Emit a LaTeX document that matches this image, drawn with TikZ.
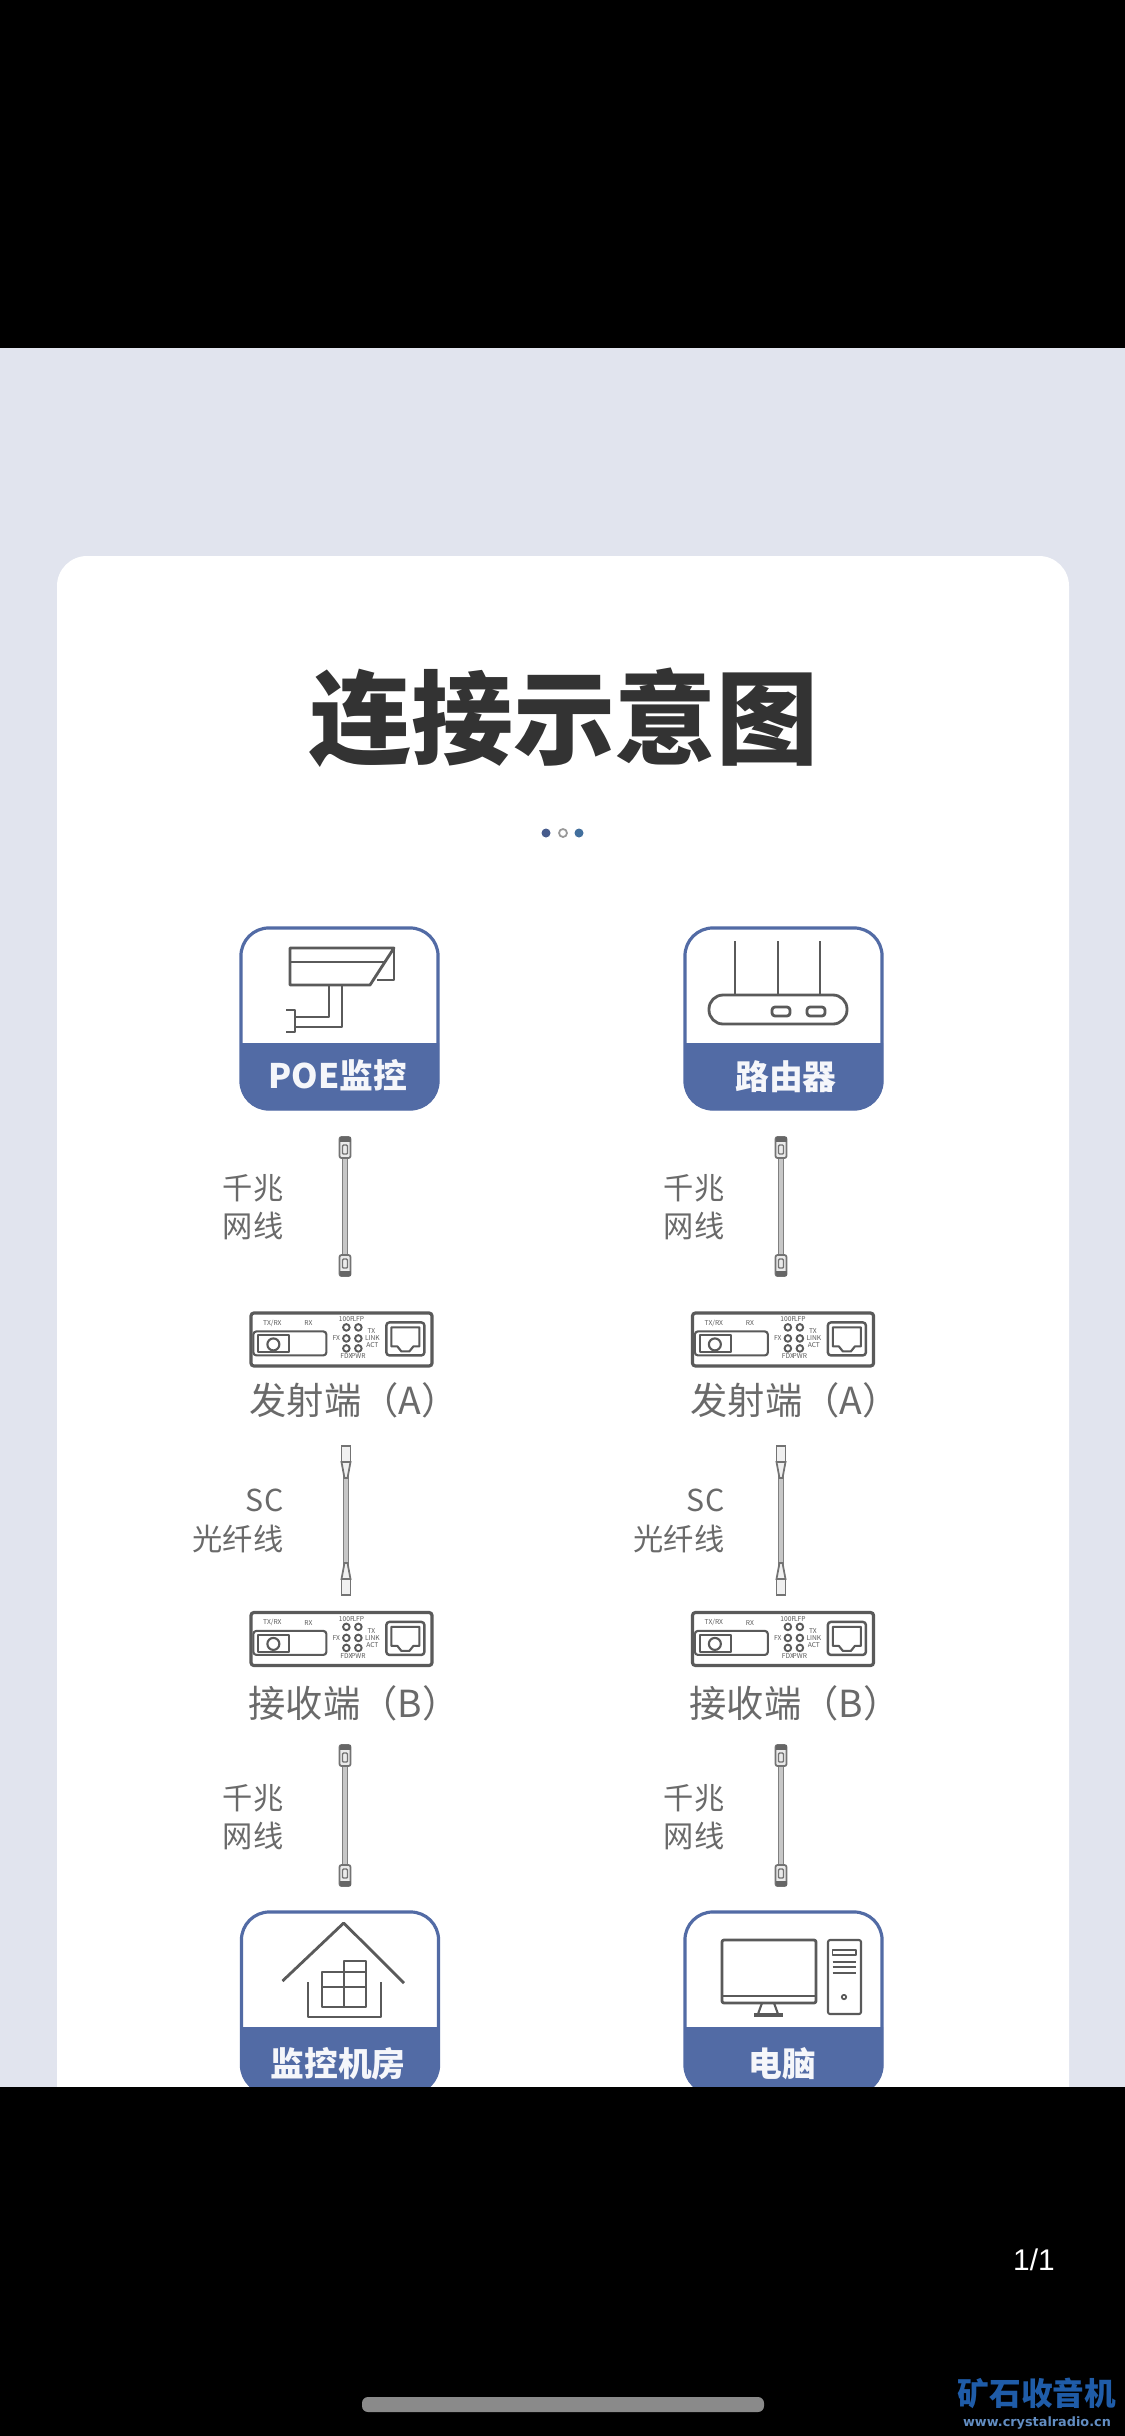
\documentclass[tikz,border=0pt]{standalone}
\usepackage{fontspec}
\setmainfont{Noto Sans CJK SC}
\newfontfamily\uifont{Liberation Sans}
\newfontfamily\logofont{DejaVu Sans}
\definecolor{pagebg}{HTML}{E1E4EE}
\definecolor{bandblue}{HTML}{526BA5}
\definecolor{iconline}{HTML}{5A5A5A}
\definecolor{textgray}{HTML}{6A6A6A}
\definecolor{logoblue}{HTML}{1F5CA8}
\begin{document}
\begin{tikzpicture}[
    x=0.01cm, y=-0.01cm,
    iconbox/.style={rectangle, draw=bandblue, line width=0.9pt, fill=white, rounded corners=0.28cm, minimum width=1.97cm, minimum height=1.81cm, inner sep=0pt},
    band/.style={fill=bandblue, rounded corners=0.28cm},
    boxlabel/.style={text=white!94!bandblue, font=\bfseries\fontsize{9.6}{11}\selectfont, inner sep=0pt},
    icon/.style={draw=iconline, line width=0.8pt, line join=round},
    devbox/.style={rectangle, draw=iconline, line width=0.9pt, fill=white, rounded corners=0.03cm, minimum width=1.81cm, minimum height=0.53cm, inner sep=0pt},
    devlabel/.style={text=textgray, font=\fontsize{10.6}{12}\selectfont, inner sep=0pt},
    cablelabel/.style={text=textgray, align=right, anchor=east, font=\fontsize{8.6}{11}\selectfont, inner sep=0pt},
    tinytext/.style={text=iconline, font=\fontsize{1.9}{2}\selectfont, inner sep=0pt},
    cablewire/.style={draw=black!50, line width=0.3pt, double=black!22, double distance=0.9pt},
    rjplug/.pic={
        \draw[draw=black!55, line width=0.5pt, fill=black!8, rounded corners=0.02cm] (-5.5,0) rectangle (5.5,21);
        \fill[black!60] (-5.5,0) rectangle (5.5,5);
        \draw[black!55, line width=0.4pt, rounded corners=0.01cm] (-2.5,8) rectangle (2.5,17);
    },
    scplug/.pic={
        \draw[draw=black!55, line width=0.5pt, fill=black!6] (-4.5,0) rectangle (4.5,16);
        \draw[draw=black!55, line width=0.5pt, fill=black!6] (-4.5,16) -- (4.5,16) -- (1.5,32) -- (-1.5,32) -- cycle;
    },
    mediaconv/.pic={
        \draw[icon, fill=white, line width=0.6pt, rounded corners=0.03cm] (4,20) rectangle (77,44);
        \draw[icon, fill=white, line width=0.6pt] (9,24) rectangle (40,41);
        \draw[icon, line width=0.6pt] (24,33) circle (6);
        \node[tinytext] (txrx) at (23,12) {TX/RX};
        \node[tinytext] (rxtext) at (59,12) {RX};
        \draw[icon, line width=0.55pt] (97,16) circle (3.3) (109,16) circle (3.3);
        \draw[icon, line width=0.55pt] (97,27) circle (3.3) (109,27) circle (3.3);
        \draw[icon, line width=0.55pt] (97,37) circle (3.3) (109,37) circle (3.3);
        \node[tinytext] (ledtl) at (97,8) {100F};
        \node[tinytext] (ledtr) at (109,8) {LFP};
        \node[tinytext] (ledbl) at (97,45) {FDX};
        \node[tinytext] (ledbr) at (109,45) {PWR};
        \node[tinytext] (ledfx) at (87,27) {FX};
        \node[tinytext] (ledtx) at (122,20) {TX};
        \node[tinytext] (ledlk) at (123,27) {LINK};
        \node[tinytext] (ledac) at (123,34) {ACT};
        \draw[icon, line width=0.7pt, rounded corners=0.03cm] (137,11) rectangle (175,44);
        \draw[icon, line width=0.6pt] (142,16) -- (170,16) -- (170,35) -- (164,35) -- (160,40) -- (152,40) -- (148,35) -- (142,35) -- cycle;
    }
]
\useasboundingbox (0,0) rectangle (1125,2436);
\fill[black] (0,0) rectangle (1125,2436);
\fill[pagebg] (0,348) rectangle (1125,2087);
\fill[white, rounded corners=0.3cm] (57,556) rectangle (1069,2200);

% title and dots
\node[text=black!80, font=\bfseries\fontsize{29}{32}\selectfont, inner sep=0pt] (title) at (564,718) {连接示意图};
\node[circle, fill=bandblue!85!black, minimum size=0.09cm, inner sep=0pt] (dota) at (546,833) {};
\node[circle, draw=black!40, fill=white, line width=0.5pt, minimum size=0.08cm, inner sep=0pt] (dotb) at (563,833) {};
\node[circle, fill=bandblue!80!teal, minimum size=0.09cm, inner sep=0pt] (dotc) at (579,833) {};

% top boxes
\node[iconbox] (poe) at (339.5,1018.5) {};
\fill[band] (240,1043) [sharp corners] -- (439,1043) [rounded corners=0.28cm] -- (439,1110) -- (240,1110) [sharp corners] -- (240,1043) -- cycle;
\node[boxlabel] (poetext) at (338,1075) {POE监控};
\node[iconbox] (router) at (783.5,1018.5) {};
\fill[band] (684,1043) [sharp corners] -- (883,1043) [rounded corners=0.28cm] -- (883,1110) -- (684,1110) [sharp corners] -- (684,1043) -- cycle;
\node[boxlabel] (routertext) at (786,1077) {路由器};

% camera
\draw[icon] (290,948) -- (394,948) -- (370,985) -- (290,985) -- cycle;
\draw[icon] (290,962) -- (385,962);
\draw[icon] (394,948) -- (394,980) -- (377,980);
\draw[icon] (329,986) -- (329,1017) -- (295,1017);
\draw[icon] (342,986) -- (342,1027) -- (295,1027);
\draw[icon] (286,1010) -- (295,1010) -- (295,1032) -- (286,1032);

% router
\draw[icon] (735,941) -- (735,995);
\draw[icon] (778,941) -- (778,995);
\draw[icon] (820,941) -- (820,995);
\draw[icon, rounded corners=0.14cm] (709,995) rectangle (847,1024);
\draw[icon, rounded corners=0.03cm] (772,1007) rectangle (790,1016);
\draw[icon, rounded corners=0.03cm] (807,1007) rectangle (825,1016);

% devices
\node[devbox] (txa) at (341.5,1339.5) {};
\pic at (txa.north west) {mediaconv};
\node[devlabel] (txatext) at (354,1400) {发射端（A）};
\node[devbox] (txb) at (783,1339.5) {};
\pic at (txb.north west) {mediaconv};
\node[devlabel] (txbtext) at (795,1400) {发射端（A）};
\node[devbox] (rxa) at (341.5,1639) {};
\pic at (rxa.north west) {mediaconv};
\node[devlabel] (rxatext) at (354,1703) {接收端（B）};
\node[devbox] (rxb) at (783,1639) {};
\pic at (rxb.north west) {mediaconv};
\node[devlabel] (rxbtext) at (795,1703) {接收端（B）};

% cables
\coordinate (lana1) at (345,1137);
\coordinate (lana2) at (345,1276);
\draw[cablewire] (lana1) -- (lana2);
\pic at (lana1) {rjplug};
\pic[yscale=-1] at (lana2) {rjplug};
\node[cablelabel] (lanatext) at (284,1207) {千兆\\网线};
\coordinate (lanb1) at (781,1137);
\coordinate (lanb2) at (781,1276);
\draw[cablewire] (lanb1) -- (lanb2);
\pic at (lanb1) {rjplug};
\pic[yscale=-1] at (lanb2) {rjplug};
\node[cablelabel] (lanbtext) at (725,1207) {千兆\\网线};
\coordinate (sca1) at (346,1446);
\coordinate (sca2) at (346,1595);
\draw[cablewire] (sca1) -- (sca2);
\pic at (sca1) {scplug};
\pic[yscale=-1] at (sca2) {scplug};
\node[cablelabel] (scatext) at (284,1521) {SC\\光纤线};
\coordinate (scb1) at (781,1446);
\coordinate (scb2) at (781,1595);
\draw[cablewire] (scb1) -- (scb2);
\pic at (scb1) {scplug};
\pic[yscale=-1] at (scb2) {scplug};
\node[cablelabel] (scbtext) at (725,1521) {SC\\光纤线};
\coordinate (lanc1) at (345,1745);
\coordinate (lanc2) at (345,1886);
\draw[cablewire] (lanc1) -- (lanc2);
\pic at (lanc1) {rjplug};
\pic[yscale=-1] at (lanc2) {rjplug};
\node[cablelabel] (lanctext) at (284,1817) {千兆\\网线};
\coordinate (land1) at (781,1745);
\coordinate (land2) at (781,1886);
\draw[cablewire] (land1) -- (land2);
\pic at (land1) {rjplug};
\pic[yscale=-1] at (land2) {rjplug};
\node[cablelabel] (landtext) at (725,1817) {千兆\\网线};

% bottom boxes
\node[iconbox] (room) at (340,2002.5) {};
\fill[band] (241,2027) [sharp corners] -- (439,2027) [rounded corners=0.28cm] -- (439,2094) -- (241,2094) [sharp corners] -- (241,2027) -- cycle;
\node[boxlabel] (roomtext) at (338,2064) {监控机房};
\node[iconbox] (pc) at (783.5,2002.5) {};
\fill[band] (684,2027) [sharp corners] -- (883,2027) [rounded corners=0.28cm] -- (883,2094) -- (684,2094) [sharp corners] -- (684,2027) -- cycle;
\node[boxlabel] (pctext) at (782.5,2064) {电脑};

% house
\draw[icon] (282.5,1981) -- (343.7,1923) -- (404,1983);
\draw[icon] (308,1982) -- (308,2017) -- (381,2017) -- (381,1982);
\draw[icon] (322,1972) rectangle (366,2007);
\draw[icon] (344,1961) rectangle (366,1972);
\draw[icon] (344,1972) -- (344,2007);
\draw[icon] (322,1987) -- (366,1987);

% computer
\draw[icon, rounded corners=0.02cm] (722,1940) rectangle (816,2003);
\draw[icon, line width=0.5pt] (722,1996) -- (816,1996);
\draw[icon, line width=0.6pt] (762,2003) -- (758,2014);
\draw[icon, line width=0.6pt] (774,2003) -- (778,2014);
\draw[icon, line width=1pt] (754,2015) -- (783,2015);
\draw[icon, rounded corners=0.02cm, line width=0.6pt] (828,1940) rectangle (861,2014);
\draw[icon, line width=0.5pt] (832.5,1950) rectangle (856,1955);
\draw[icon, line width=0.8pt] (832.5,1962) -- (856,1962);
\draw[icon, line width=0.8pt] (832.5,1967) -- (856,1967);
\draw[icon, line width=0.8pt] (832.5,1973) -- (856,1973);
\draw[icon, line width=0.5pt] (844,1997) circle (2.2);

% phone overlay
\fill[black] (0,2087) rectangle (1125,2436);
\node[text=white, font=\uifont\fontsize{8.5}{10}\selectfont, inner sep=0pt] (pagenum) at (1034,2260) {1/1};
\fill[black!46, rounded corners=0.06cm] (362,2397) rectangle (764,2412);
\node[text=logoblue, font=\bfseries\fontsize{9}{10}\selectfont, inner sep=0pt] (logo) at (1037,2393) {矿石收音机};
\node[text=logoblue!70!white, font=\logofont\bfseries\fontsize{3.65}{4}\selectfont, inner sep=0pt] (logourl) at (1037,2423) {www.crystalradio.cn};
\end{tikzpicture}
\end{document}
